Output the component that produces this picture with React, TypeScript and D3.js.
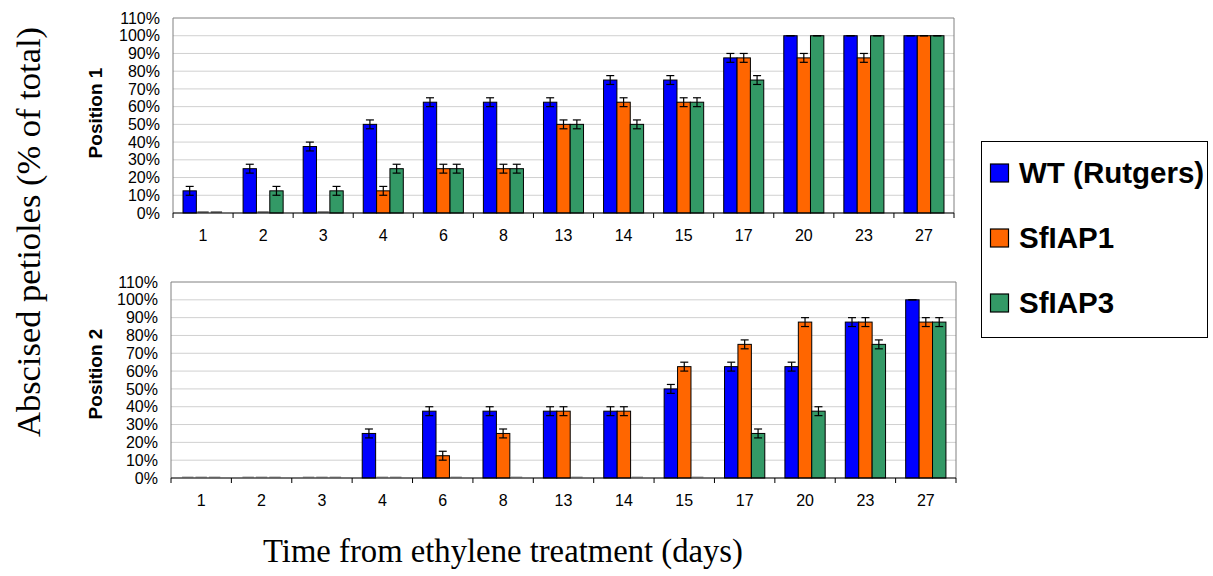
import React from "react";
import * as d3 from "d3";

const days = ["1", "2", "3", "4", "6", "8", "13", "14", "15", "17", "20", "23", "27"];
const seriesNames = ["WT (Rutgers)", "SfIAP1", "SfIAP3"];
const seriesColors = ["#0000FF", "#FF6600", "#339966"];

const pos1WT = [12.5, 25, 37.5, 50, 62.5, 62.5, 62.5, 75, 75, 87.5, 100, 100, 100];
const pos1IAP1 = [0, 0, 0, 12.5, 25, 25, 50, 62.5, 62.5, 87.5, 87.5, 87.5, 100];
const pos1IAP3 = [0, 12.5, 12.5, 25, 25, 25, 50, 50, 62.5, 75, 100, 100, 100];

const pos2WT = [0, 0, 0, 25, 37.5, 37.5, 37.5, 37.5, 50, 62.5, 62.5, 87.5, 100];
const pos2IAP1 = [0, 0, 0, 0, 12.5, 25, 37.5, 37.5, 62.5, 75, 87.5, 87.5, 87.5];
const pos2IAP3 = [0, 0, 0, 0, 0, 0, 0, 0, 0, 25, 37.5, 75, 87.5];

const errorSize = 2.5;
const yTicks = [0, 10, 20, 30, 40, 50, 60, 70, 80, 90, 100, 110];

type Panel = {
  title: string;
  series: number[][];
  left: number;
  right: number;
  top: number;
  bottom: number;
  titleY: number;
  zeroColor: string;
};

const panels: Panel[] = [
  { title: "Position 1", series: [pos1WT, pos1IAP1, pos1IAP3], left: 173, right: 954, top: 18, bottom: 213, titleY: 113, zeroColor: "#111" },
  { title: "Position 2", series: [pos2WT, pos2IAP1, pos2IAP3], left: 171, right: 956, top: 282, bottom: 478, titleY: 374, zeroColor: "#999" },
];

function PanelChart({ p }: { p: Panel }) {
  const x = d3.scaleBand<string>().domain(days).range([p.left, p.right]).paddingInner(0).paddingOuter(0);
  const y = d3.scaleLinear().domain([0, 110]).range([p.bottom, p.top]);
  const bw = x.bandwidth();
  const barW = bw / 4.5;
  const groupStart = (bw - barW * 3) / 2;
  const font = "Arial, 'Liberation Sans', sans-serif";
  return (
    <g>
      {yTicks.map((t) => (
        <line key={"g" + t} x1={p.left} x2={p.right} y1={y(t)} y2={y(t)} stroke={t === 110 ? "#808080" : "#d0d0d0"} strokeWidth={1} />
      ))}
      <line x1={p.right} x2={p.right} y1={p.top} y2={p.bottom} stroke="#808080" />
      <line x1={p.left} x2={p.left} y1={p.top} y2={p.bottom} stroke="#808080" />
      {yTicks.map((t) => (
        <text key={"yt" + t} x={p.left - 13} y={y(t)} dy="0.35em" textAnchor="end" fontSize={16} fontFamily={font} fill="#000">
          {t}%
        </text>
      ))}
      {p.series.map((vals, si) =>
        vals.map((v, ci) => {
          const bx = (x(days[ci]) as number) + groupStart + si * barW;
          if (v === 0) {
            return (
              <line key={`z${si}-${ci}`} x1={bx + 1} x2={bx + barW - 1} y1={p.bottom - 1} y2={p.bottom - 1} stroke={p.zeroColor} strokeWidth={1} />
            );
          }
          return (
            <rect key={`b${si}-${ci}`} x={bx} y={y(v)} width={barW} height={p.bottom - y(v)} fill={seriesColors[si]} stroke="#000" strokeWidth={1} />
          );
        })
      )}
      {p.series.map((vals, si) =>
        vals.map((v, ci) => {
          if (v === 0) return null;
          const e = v >= 100 ? 0 : errorSize;
          const cx = (x(days[ci]) as number) + groupStart + si * barW + barW / 2;
          const y1 = y(v + e);
          const y2 = y(v - e);
          return (
            <g key={`e${si}-${ci}`} stroke="#000" strokeWidth={1.2}>
              <line x1={cx} x2={cx} y1={y1} y2={y2} />
              <line x1={cx - 4} x2={cx + 4} y1={y1} y2={y1} />
              <line x1={cx - 4} x2={cx + 4} y1={y2} y2={y2} />
            </g>
          );
        })
      )}
      <line x1={p.left} x2={p.right} y1={p.bottom} y2={p.bottom} stroke="#000" strokeWidth={1} />
      {days.map((d) => (
        <line key={"tk" + d} x1={x(d) as number} x2={x(d) as number} y1={p.bottom} y2={p.bottom + 5} stroke="#000" />
      ))}
      <line x1={p.right} x2={p.right} y1={p.bottom} y2={p.bottom + 5} stroke="#000" />
      {days.map((d) => (
        <text key={"xl" + d} x={(x(d) as number) + bw / 2} y={p.bottom + 22} dy="0.35em" textAnchor="middle" fontSize={16} fontFamily={font} fill="#000">
          {d}
        </text>
      ))}
      <text
        transform={`translate(102,${p.titleY}) rotate(-90)`}
        textAnchor="middle"
        fontSize={19}
        fontWeight="bold"
        fontFamily={font}
        fill="#000"
      >
        {p.title}
      </text>
    </g>
  );
}

export default function App() {
  const font = "Arial, 'Liberation Sans', sans-serif";
  const serif = "'Times New Roman', 'Liberation Serif', serif";
  const legendRows = [173, 238, 303];
  return (
    <svg width={1213} height={576} style={{ position: "absolute", left: 0, top: 0, background: "#fff" }}>
      <rect x={0} y={0} width={1213} height={576} fill="#fff" />
      {panels.map((p) => (
        <PanelChart key={p.title} p={p} />
      ))}
      <text transform="translate(40,232) rotate(-90)" textAnchor="middle" fontSize={34.5} fontFamily={serif} fill="#000">
        Abscised petioles (% of total)
      </text>
      <text x={503} y={562} textAnchor="middle" fontSize={32.7} fontFamily={serif} fill="#000">
        Time from ethylene treatment (days)
      </text>
      <rect x={981.5} y={141.5} width={226} height={196} fill="#fff" stroke="#000" strokeWidth={1} />
      {seriesNames.map((n, i) => (
        <g key={n}>
          <rect x={990.5} y={legendRows[i] - 9} width={18} height={18} fill={seriesColors[i]} stroke="#000" strokeWidth={1.2} />
          <text x={1019} y={legendRows[i] + 10} fontSize={29.5} fontWeight="bold" fontFamily={font} fill="#000">
            {n}
          </text>
        </g>
      ))}
    </svg>
  );
}
